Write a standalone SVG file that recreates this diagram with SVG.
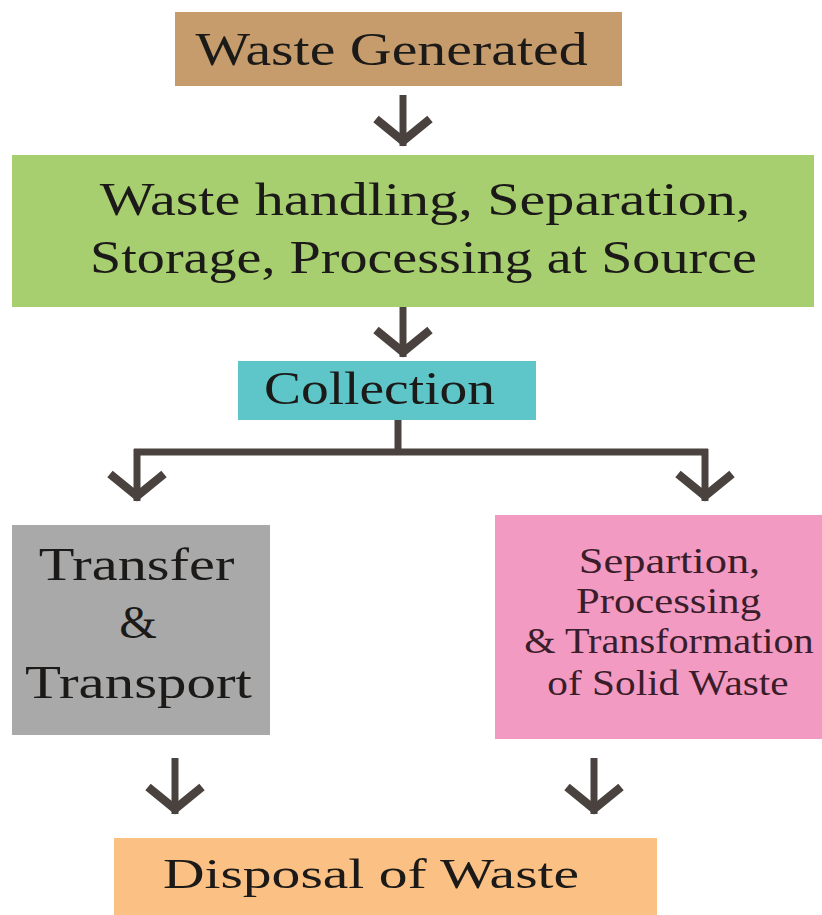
<svg xmlns="http://www.w3.org/2000/svg" width="822" height="915" viewBox="0 0 822 915">
  <style>
    text { fill: #1c1a18; text-anchor: middle; }
    .big { font-size: 46px; }
    .sm { font-size: 35px; fill: #3a1d2a; }
    .dis { font-size: 42px; }
    .conn { fill: none; stroke: #4a423f; stroke-width: 7; }
  </style>
  <defs>
    <marker id="chev" markerUnits="userSpaceOnUse" orient="auto" viewBox="-40 -40 50 80" markerWidth="50" markerHeight="80" refX="0" refY="0" overflow="visible">
      <path d="M-27,-27 L-5,0 L-27,27" fill="none" stroke="#4a423f" stroke-width="8.5" stroke-linejoin="miter" stroke-miterlimit="10"/>
    </marker>
  </defs>
  <rect width="822" height="915" fill="#ffffff"/>

  <g id="connectors">
    <path class="conn" d="M403,95 L403,146" marker-end="url(#chev)"/>
    <path class="conn" d="M403,307 L403,357" marker-end="url(#chev)"/>
    <path class="conn" d="M398,420 L398,452"/>
    <path class="conn" d="M134,452 L708,452"/>
    <path class="conn" d="M137,449 L137,501" marker-end="url(#chev)"/>
    <path class="conn" d="M705,449 L705,501" marker-end="url(#chev)"/>
    <path class="conn" d="M175,758 L175,814" marker-end="url(#chev)"/>
    <path class="conn" d="M594,758 L594,814" marker-end="url(#chev)"/>
  </g>

  <g id="waste-generated" font-family="'Liberation Serif', serif">
    <rect x="175" y="12" width="447" height="74" fill="#c69c6d"/>
    <text class="big" transform="translate(391.5,65) scale(1.258,1)">Waste Generated</text>
  </g>

  <g id="waste-handling" font-family="'Liberation Serif', serif">
    <rect x="12" y="155" width="802" height="152" fill="#a7cf70"/>
    <text class="big" transform="translate(425,215) scale(1.264,1)">Waste handling, Separation,</text>
    <text class="big" transform="translate(423.5,273) scale(1.22,1)">Storage, Processing at Source</text>
  </g>

  <g id="collection" font-family="'Liberation Serif', serif">
    <rect x="238" y="361" width="298" height="59" fill="#5ec5c8"/>
    <text class="big" transform="translate(379.5,404) scale(1.206,1)">Collection</text>
  </g>

  <g id="transfer-transport" font-family="'Liberation Serif', serif">
    <rect x="12" y="525" width="258" height="210" fill="#a9a9a9"/>
    <text class="big" transform="translate(136.5,580) scale(1.27,1)">Transfer</text>
    <text class="big" transform="translate(138,638) scale(1.05,1)">&amp;</text>
    <text class="big" transform="translate(138.5,698) scale(1.28,1)">Transport</text>
  </g>

  <g id="separation-processing" font-family="'Liberation Serif', serif">
    <rect x="495" y="515" width="327" height="224" fill="#f39ac2"/>
    <text class="sm" transform="translate(669.5,573) scale(1.27,1)">Separtion,</text>
    <text class="sm" transform="translate(668.5,613) scale(1.22,1)">Processing</text>
    <text class="sm" transform="translate(669,653) scale(1.15,1)">&amp; Transformation</text>
    <text class="sm" transform="translate(668,695) scale(1.18,1)">of Solid Waste</text>
  </g>

  <g id="disposal" font-family="'Liberation Serif', serif">
    <rect x="114" y="838" width="543" height="77" fill="#fbc083"/>
    <text class="dis" transform="translate(371,888) scale(1.37,1)">Disposal of Waste</text>
  </g>
</svg>
